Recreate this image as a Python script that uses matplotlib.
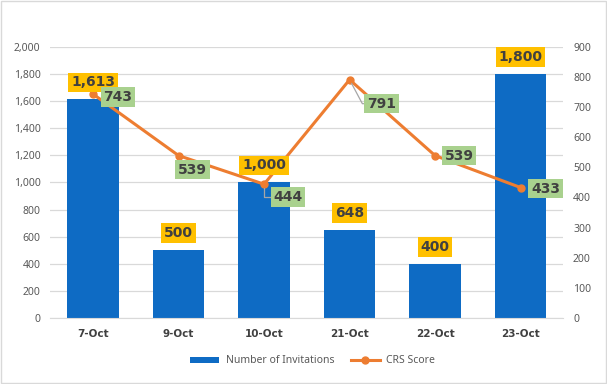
import numpy as np
import matplotlib.pyplot as plt

plt.rcParams['font.family'] = ['Noto Sans', 'DejaVu Sans']

# data
dates = ['7-Oct', '9-Oct', '10-Oct', '21-Oct', '22-Oct', '23-Oct']
invitations = [1613, 500, 1000, 648, 400, 1800]
crs_score = [743, 539, 444, 791, 539, 433]

# label offsets for CRS boxes (pixels, label centre relative to the point)
crs_offsets = [(25, -3), (14, -14), (24, -13), (32, -24), (24, 0), (25, -1)]

bar_color = '#0E6BC4'
line_color = '#ED7D31'
text_color = '#404040'
tick_color = '#595959'
lead_color = '#A6A6A6'
bold_font = 'DejaVu Sans'

fig = plt.figure(figsize=(6.07, 3.84), dpi=100)
ax = fig.add_axes([0.083, 0.172, 0.845, 0.706])
ax2 = ax.twinx()

x = np.arange(len(dates))
ax.bar(x, invitations, width=0.6, color=bar_color, zorder=2, label='Number of Invitations')
ax2.plot(x, crs_score, color=line_color, lw=2.2, marker='o', ms=5, zorder=3, label='CRS Score')

ax.set_ylim(0, 2000)
ax.set_yticks(np.arange(0, 2001, 200))
ax.set_yticklabels([f'{v:,}' for v in range(0, 2001, 200)])
ax2.set_ylim(0, 900)
ax2.set_yticks(np.arange(0, 901, 100))
ax.set_xlim(-0.5, len(dates) - 0.5)
ax.set_xticks(x)
ax.set_xticklabels(dates, fontweight='bold', family=bold_font, fontsize=7.5)

ax.grid(axis='y', color='#D9D9D9', lw=0.9, zorder=0)
ax.set_axisbelow(True)
for a in (ax, ax2):
    for s in a.spines.values():
        s.set_visible(False)
    a.tick_params(length=0, labelsize=7.5, colors=tick_color)
ax.spines['bottom'].set_visible(True)
ax.spines['bottom'].set_color('#D9D9D9')
ax.tick_params(axis='x', pad=8, labelcolor=text_color)
ax.tick_params(axis='y', pad=7)
ax2.tick_params(axis='y', pad=7)

# bar labels (on ax2 so they sit above the line)
for xi, v in zip(x, invitations):
    ax2.annotate(f'{v:,}', (xi, v), xycoords=ax.transData, xytext=(0, 17),
                 textcoords='offset pixels', ha='center', va='center',
                 fontsize=10, fontweight='bold', family=bold_font, color=text_color,
                 bbox=dict(boxstyle='square,pad=0.2', fc='#FFC000', ec='none'), zorder=5)

# CRS labels
leaders = {2: 'angle,angleA=0,angleB=90,rad=0', 3: 'angle,angleA=0,angleB=-62,rad=0'}
for i, (xi, v, off) in enumerate(zip(x, crs_score, crs_offsets)):
    arrow = None
    if i in leaders:
        arrow = dict(arrowstyle='-', color=lead_color, lw=0.9, shrinkA=0, shrinkB=3,
                     relpos=(0, 0.5), connectionstyle=leaders[i])
    ax2.annotate(f'{v}', (xi, v), xytext=off, textcoords='offset pixels',
                 ha='center', va='center', fontsize=10, fontweight='bold',
                 family=bold_font, color=text_color,
                 bbox=dict(boxstyle='square,pad=0.2', fc='#A9D18E', ec='none'),
                 arrowprops=arrow, zorder=6)

h1, l1 = ax.get_legend_handles_labels()
h2, l2 = ax2.get_legend_handles_labels()
fig.legend(h1 + h2, l1 + l2, loc='center', bbox_to_anchor=(0.515, 0.06), ncol=2,
           frameon=False, fontsize=7.5, labelcolor=tick_color, handlelength=2.8,
           handleheight=0.5, handletextpad=0.6, columnspacing=1.6)

fig.patches.append(plt.Rectangle((0.002, 0.002), 0.996, 0.996, transform=fig.transFigure,
                                 fill=False, ec='#D9D9D9', lw=1))

fig.savefig('out.png', dpi=100)
